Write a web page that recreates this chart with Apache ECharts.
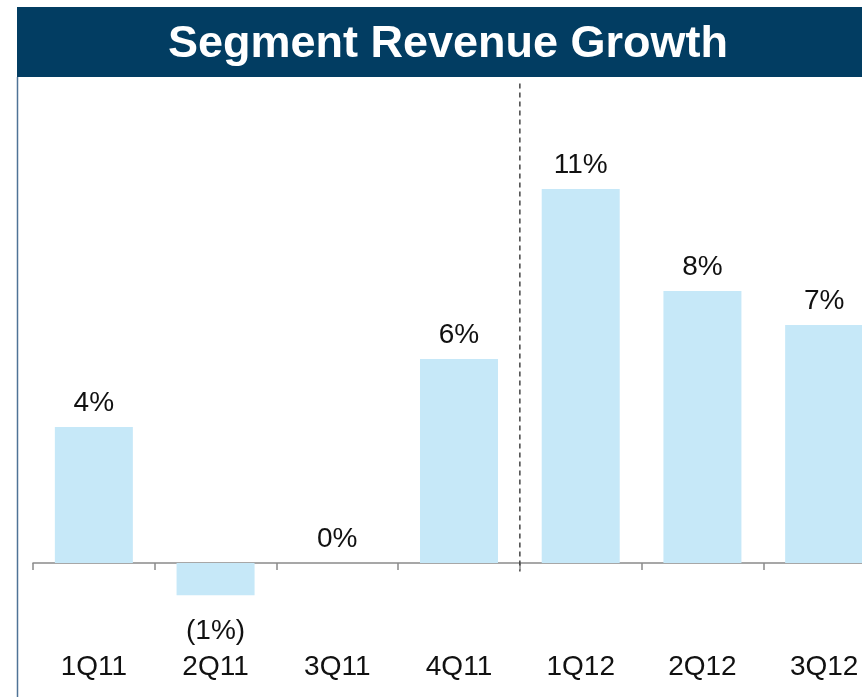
<!DOCTYPE html>
<html>
<head>
<meta charset="utf-8">
<script src="https://cdn.jsdelivr.net/npm/echarts@6/dist/echarts.min.js"></script>
<style>
  html, body { margin: 0; padding: 0; background: #fff; }
  #chart { width: 862px; height: 697px; }
</style>
</head>
<body>
<div id="chart"></div>
<script>
var quarters = ['1Q11', '2Q11', '3Q11', '4Q11', '1Q12', '2Q12', '3Q12'];
var growth = [4, -0.95, 0, 6, 11, 8, 7];
var growthLabels = ['4%', '(1%)', '0%', '6%', '11%', '8%', '7%'];
// divider sits between 4Q11 and 1Q12, runs from top of plot to just below the axis
var dividerX = 4;
var dividerY = [14.1, -0.25];
// quarter names sit in a row under the zero line
var quarterRowY = -3;

var myChart = echarts.init(document.getElementById('chart'));

var fontFam = '"Liberation Sans", Arial, sans-serif';

var barData = growth.map(function (v) {
  if (v < 0) {
    return { value: v, label: { position: 'bottom', distance: 22 } };
  }
  return { value: v };
});

var quarterRow = quarters.map(function (q, i) { return [i, quarterRowY]; });

var option = {
  animation: false,
  graphic: [
    {
      type: 'rect',
      shape: { x: 17, y: 7, width: 845, height: 70 },
      style: { fill: '#023d62' }
    },
    {
      type: 'text',
      x: 448,
      y: 45,
      style: {
        text: 'Segment Revenue Growth',
        fill: '#fff',
        font: 'bold 45px ' + fontFam,
        textAlign: 'center',
        textVerticalAlign: 'middle'
      }
    },
    {
      type: 'line',
      shape: { x1: 17.5, y1: 77, x2: 17.5, y2: 697 },
      style: { stroke: '#4f7396', lineWidth: 1.5 }
    }
  ],
  // plot runs past the right edge so 3Q12 is cut off like the original
  grid: { left: 33, width: 852, top: 87, bottom: 15, outerBoundsMode: 'none', containLabel: false },
  xAxis: [
    {
      type: 'category',
      data: quarters,
      axisLine: { show: true, lineStyle: { color: '#8a8a8a', width: 1.5 } },
      axisTick: { show: true, length: 7, lineStyle: { color: '#8a8a8a', width: 1.5 } },
      axisLabel: { show: false }
    },
    {
      type: 'value',
      min: 0,
      max: 7,
      show: false
    }
  ],
  yAxis: {
    type: 'value',
    min: -3.5,
    max: 14,
    show: false,
    splitLine: { show: false }
  },
  series: [
    {
      type: 'bar',
      data: barData,
      barWidth: 78,
      itemStyle: { color: '#c6e8f8' },
      label: {
        show: true,
        position: 'top',
        distance: 10,
        fontSize: 28,
        color: '#111',
        fontFamily: fontFam,
        formatter: function (p) { return growthLabels[p.dataIndex]; }
      }
    },
    {
      type: 'scatter',
      data: quarterRow,
      symbolSize: 1,
      silent: true,
      itemStyle: { color: '#fff', opacity: 0 },
      label: {
        show: true,
        position: 'inside',
        offset: [0, 2],
        fontSize: 28,
        color: '#111',
        textBorderWidth: 0,
        textBorderColor: 'transparent',
        opacity: 1,
        fontFamily: fontFam,
        formatter: function (p) { return quarters[p.dataIndex]; }
      }
    },
    {
      type: 'line',
      xAxisIndex: 1,
      data: [[dividerX, dividerY[0]], [dividerX, dividerY[1]]],
      symbol: 'none',
      clip: false,
      silent: true,
      lineStyle: { color: '#444', type: [5, 4], width: 1.5 }
    }
  ]
};

myChart.setOption(option);
</script>
</body>
</html>
